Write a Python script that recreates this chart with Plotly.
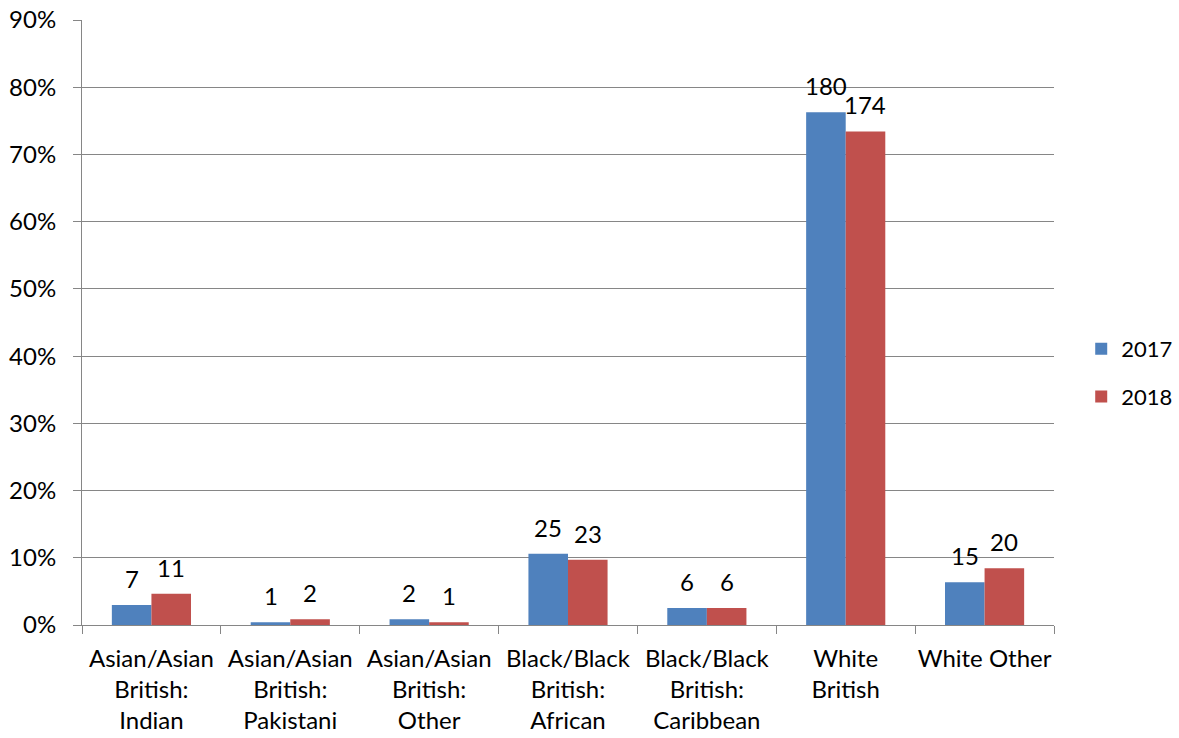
import plotly.graph_objects as go

categories = [
    "Asian/Asian<br>British:<br>Indian",
    "Asian/Asian<br>British:<br>Pakistani",
    "Asian/Asian<br>British:<br>Other",
    "Black/Black<br>British:<br>African",
    "Black/Black<br>British:<br>Caribbean",
    "White<br>British",
    "White Other",
]
counts_2017 = [7, 1, 2, 25, 6, 180, 15]
counts_2018 = [11, 2, 1, 23, 6, 174, 20]
series_names = ["2017", "2018"]
colors = ["#4F81BD", "#C0504D"]
y_ticks = [0, 0.1, 0.2, 0.3, 0.4, 0.5, 0.6, 0.7, 0.8, 0.9]

FONT = "Lato"
FS = 24
BARGAP = 0.43
FIG_W, FIG_H = 1179, 738
M_L, M_R, M_T, M_B = 82, 125, 20, 113
PLOT_W = FIG_W - M_L - M_R

fig = go.Figure()
bar_px = PLOT_W / len(categories) * (1 - BARGAP) / 2
for i, (name, counts, color) in enumerate(zip(series_names, [counts_2017, counts_2018], colors)):
    total = sum(counts)
    shares = [c / total for c in counts]
    fig.add_trace(go.Bar(
        x=categories, y=shares, name=name, legendgroup=name,
        marker=dict(color=color, line=dict(width=0)),
    ))
    shift = (i - 0.5) * bar_px
    for cat, s, c in zip(categories, shares, counts):
        fig.add_annotation(
            x=cat, y=s, xref="x", yref="y", text=str(c),
            showarrow=False, xanchor="center", yanchor="bottom",
            xshift=shift, yshift=10,
            font=dict(size=FS, family=FONT, color="black"),
        )

fig.update_layout(
    width=FIG_W, height=FIG_H,
    margin=dict(l=M_L, r=M_R, t=M_T, b=M_B, autoexpand=False),
    plot_bgcolor="white", paper_bgcolor="white",
    barmode="group", bargap=BARGAP, bargroupgap=0,
    font=dict(family=FONT, size=FS, color="black"),
    legend=dict(x=1.028, y=0.4165, xanchor="left", yanchor="middle",
                tracegroupgap=16, font=dict(size=22, family=FONT),
                traceorder="grouped"),
    showlegend=True,
)
fig.update_xaxes(
    showline=True, linecolor="#868686", linewidth=1,
    ticks="outside", ticklen=8, tickcolor="#868686", tickson="boundaries",
    tickfont=dict(size=FS, family=FONT), automargin=False, tickangle=0,
    ticklabelstandoff=12, ticklabeloverflow="allow",
)
fig.update_yaxes(
    range=[0, 0.9], tickvals=y_ticks, tickformat=".0%",
    showgrid=True, gridcolor="#868686", gridwidth=1,
    showline=True, linecolor="#868686", linewidth=1,
    ticks="outside", ticklen=8, tickcolor="#868686",
    tickfont=dict(size=FS, family=FONT), zeroline=False, automargin=False,
    ticklabelstandoff=12, ticklabeloverflow="allow",
)

fig.write_html("out.html", config={"displayModeBar": False},
               post_script="document.body.style.margin='0px';")
